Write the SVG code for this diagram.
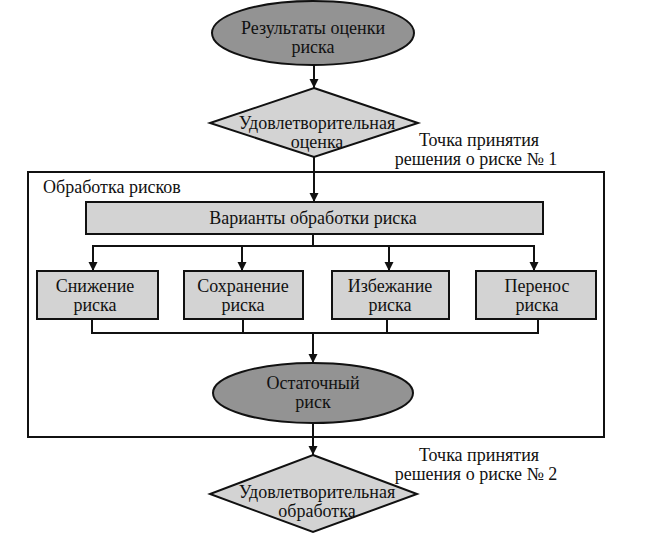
<svg xmlns="http://www.w3.org/2000/svg" width="655" height="537" viewBox="0 0 655 537">
<style>
  text { font-family: "Liberation Serif", "Times New Roman", serif; font-size: 18px; fill: #111; text-anchor: middle; }
  .dark { fill: #939393; stroke: #111; stroke-width: 2; }
  .light { fill: #d3d3d3; stroke: #111; stroke-width: 2; }
  .frame { fill: none; stroke: #111; stroke-width: 2; }
  .conn { fill: none; stroke: #111; stroke-width: 2; }
  .lbl { text-anchor: start; }
</style>
<defs>
  <marker id="arr" viewBox="0 0 10 10" refX="10" refY="5" markerWidth="4.5" markerHeight="5" markerUnits="strokeWidth" orient="auto">
    <path d="M0,0 L10,5 L0,10 z" fill="#111"/>
  </marker>
</defs>
<rect fill="#ffffff" x="0" y="0" width="655" height="537"/>

<g id="frame">
  <rect class="frame" x="28" y="172" width="576" height="265"/>
  <text class="lbl" x="43" y="193">Обработка рисков</text>
</g>

<g id="connectors">
  <line class="conn" x1="314" y1="65" x2="314" y2="88" marker-end="url(#arr)"/>
  <line class="conn" x1="314" y1="157" x2="314" y2="202" marker-end="url(#arr)"/>
  <line class="conn" x1="313" y1="234" x2="313" y2="246"/>
  <line class="conn" x1="92" y1="246" x2="535" y2="246"/>
  <line class="conn" x1="93" y1="246" x2="93" y2="271" marker-end="url(#arr)"/>
  <line class="conn" x1="242" y1="246" x2="242" y2="271" marker-end="url(#arr)"/>
  <line class="conn" x1="389" y1="246" x2="389" y2="271" marker-end="url(#arr)"/>
  <line class="conn" x1="534" y1="246" x2="534" y2="271" marker-end="url(#arr)"/>
  <polyline class="conn" points="92,319 92,333 538,333 538,319"/>
  <line class="conn" x1="243" y1="319" x2="243" y2="333"/>
  <line class="conn" x1="387" y1="319" x2="387" y2="333"/>
  <line class="conn" x1="313" y1="333" x2="313" y2="363" marker-end="url(#arr)"/>
  <line class="conn" x1="313" y1="423" x2="313" y2="455" marker-end="url(#arr)"/>
</g>

<g id="results">
  <ellipse class="dark" cx="313" cy="33" rx="101" ry="32"/>
  <text x="313" y="34">Результаты оценки</text>
  <text x="313" y="53">риска</text>
</g>

<g id="decision1">
  <polygon class="light" points="314,88 418,123 314,157 210,123"/>
  <text x="317" y="129">Удовлетворительная</text>
  <text x="317" y="148">оценка</text>
</g>

<g id="point1">
  <text x="479" y="146">Точка принятия</text>
  <text x="476" y="165">решения о риске № 1</text>
</g>

<g id="options">
  <rect class="light" x="86" y="202" width="457" height="32"/>
  <text x="313" y="224">Варианты обработки риска</text>
</g>

<g id="reduce">
  <rect class="light" x="37" y="271" width="121" height="48"/>
  <text x="95" y="292">Снижение</text>
  <text x="95" y="311">риска</text>
</g>

<g id="retain">
  <rect class="light" x="184" y="271" width="119" height="48"/>
  <text x="243" y="292">Сохранение</text>
  <text x="243" y="311">риска</text>
</g>

<g id="avoid">
  <rect class="light" x="332" y="271" width="117" height="48"/>
  <text x="390" y="292">Избежание</text>
  <text x="390" y="311">риска</text>
</g>

<g id="transfer">
  <rect class="light" x="476" y="271" width="120" height="48"/>
  <text x="537" y="292">Перенос</text>
  <text x="537" y="311">риска</text>
</g>

<g id="residual">
  <ellipse class="dark" cx="313" cy="393" rx="100" ry="30"/>
  <text x="313" y="389">Остаточный</text>
  <text x="313" y="408">риск</text>
</g>

<g id="point2">
  <text x="479" y="461">Точка принятия</text>
  <text x="476" y="480">решения о риске № 2</text>
</g>

<g id="decision2">
  <polygon class="light" points="313,455 417,494 313,532 210,494"/>
  <text x="317" y="498">Удовлетворительная</text>
  <text x="317" y="517">обработка</text>
</g>
</svg>
